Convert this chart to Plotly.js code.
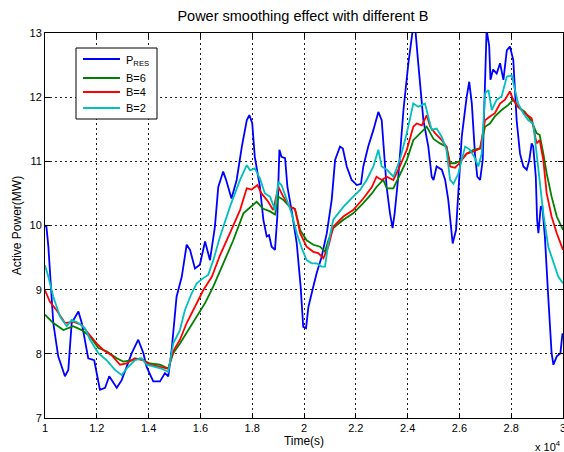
<!DOCTYPE html>
<html>
<head>
<meta charset="utf-8">
<script src="https://cdn.plot.ly/plotly-3.0.1.min.js"></script>
<style>html,body{margin:0;padding:0;background:#fff;}#chart{width:564px;height:452px;}</style>
</head>
<body>
<div id="chart"></div>
<script>
// Time in seconds, power in MW
const tRes = [10000,10050,10130,10320,10510,10770,10900,11030,11290,11420,11670,11900,12120,12320,12480,12570,12770,12960,13150,13350,13600,13800,13920,14180,14440,14630,14760,14890,15080,15280,15470,15600,15790,15980,16180,16370,16560,16690,16880,17000,17200,17400,17600,17790,17890,18000,18100,18300,18430,18560,18650,18750,18880,18970,19050,19130,19270,19360,19520,19720,19870,19970,20080,20170,20360,20490,20680,20880,21070,21200,21390,21500,21650,21840,22040,22200,22290,22480,22680,22870,23000,23090,23190,23320,23420,23500,23640,23840,24030,24200,24300,24410,24610,24800,24930,25000,25120,25320,25450,25570,25680,25740,25870,25960,26090,26280,26380,26480,26600,26690,26800,26900,26990,27050,27150,27200,27300,27440,27570,27700,27830,27950,28080,28210,28340,28470,28600,28700,28790,28850,28950,29000,29050,29140,29200,29300,29430,29560,29630,29760,29900,29980];
const pRes = [9.98,10.0,9.67,8.48,7.96,7.65,7.75,8.48,8.66,8.48,7.93,7.90,7.44,7.47,7.65,7.60,7.47,7.59,7.80,8.01,8.22,8.01,7.80,7.57,7.57,7.70,7.65,8.06,8.89,9.20,9.70,9.62,9.33,9.39,9.75,9.46,9.98,10.60,10.84,10.70,10.42,10.71,11.23,11.64,11.72,11.60,11.07,10.60,10.09,9.83,9.85,9.67,9.62,10.14,11.18,11.07,11.05,10.60,10.24,9.72,9.05,8.42,8.40,8.73,9.05,9.26,9.51,9.88,10.40,11.02,11.23,11.20,10.92,10.71,10.63,10.65,10.92,11.23,11.49,11.77,11.64,11.12,10.60,10.19,9.96,10.19,10.76,11.80,12.53,13.05,13.05,12.53,11.64,11.23,10.76,10.71,10.92,10.87,10.71,10.40,9.88,9.72,9.93,10.50,11.38,12.00,12.24,11.90,11.12,10.76,10.71,11.02,12.32,13.05,12.80,12.27,12.43,12.37,12.53,12.27,12.73,12.79,12.58,11.64,11.12,10.92,10.87,11.02,11.28,11.23,10.76,10.09,9.88,10.29,10.30,9.83,8.89,8.01,7.83,7.96,8.01,8.32];

const tB6 = [10000,10320,10710,11090,11420,11740,12060,12380,12770,13020,13350,13670,14050,14440,14760,14950,15210,15530,15860,16180,16500,16880,17270,17660,17920,18170,18430,18690,18880,19010,19200,19460,19650,19850,20100,20360,20620,20810,20940,21130,21520,21900,22290,22620,22800,23060,23200,23450,23700,23970,24220,24480,24740,25000,25250,25500,25640,25830,26000,26280,26540,26800,26990,27180,27370,27630,27890,28080,28270,28530,28790,28980,29100,29240,29370,29560,29760,30000];
const pB6 = [8.61,8.48,8.37,8.43,8.37,8.27,8.09,8.04,7.93,7.88,7.90,7.93,7.85,7.83,7.77,8.01,8.16,8.37,8.58,8.79,9.05,9.41,9.77,10.19,10.29,10.37,10.26,10.22,10.17,10.45,10.40,10.29,10.26,9.93,9.77,9.70,9.67,9.59,9.77,9.96,10.09,10.19,10.35,10.50,10.60,10.71,10.58,10.58,10.79,11.02,11.33,11.44,11.54,11.35,11.28,11.23,10.97,10.97,11.00,11.12,11.18,11.20,11.54,11.59,11.70,11.80,11.88,11.96,11.85,11.77,11.62,11.44,11.41,11.12,10.81,10.45,10.14,9.93];

const tB4 = [10000,10190,10450,10770,11090,11420,11670,12000,12250,12570,12900,13150,13470,13800,14050,14440,14760,14950,15210,15470,15790,16110,16440,16760,17140,17530,17790,17980,18200,18360,18620,18810,19010,19200,19460,19650,19850,20100,20360,20550,20750,20940,21130,21520,21900,22290,22620,22800,23000,23200,23450,23700,23970,24220,24350,24550,24740,24870,25060,25320,25500,25640,25830,26000,26280,26540,26800,26990,27180,27370,27570,27760,27950,28080,28270,28530,28790,28980,29100,29240,29370,29560,29760,30000];
const pB4 = [8.99,8.81,8.68,8.48,8.50,8.45,8.32,8.16,8.06,7.98,7.83,7.85,7.93,7.90,7.83,7.80,7.77,8.04,8.22,8.48,8.74,8.99,9.20,9.54,9.88,10.24,10.58,10.56,10.63,10.50,10.37,10.24,10.60,10.45,10.29,10.26,9.88,9.67,9.59,9.57,9.49,9.67,9.98,10.14,10.24,10.42,10.60,10.76,10.71,10.76,10.71,10.92,11.18,11.54,11.59,11.56,11.72,11.54,11.44,11.33,11.23,10.92,10.90,10.97,11.12,11.15,11.20,11.64,11.70,11.75,11.90,11.96,12.09,11.96,11.85,11.75,11.67,11.28,11.33,11.02,10.50,10.14,9.88,9.62];

const tB2 = [10000,10130,10320,10580,10840,11030,11290,11540,11740,12060,12380,12700,12960,13150,13470,13730,13920,14180,14500,14760,14950,15210,15400,15660,15860,16110,16300,16500,16760,17140,17530,17790,17920,18100,18300,18490,18690,18880,19010,19130,19330,19520,19720,19910,20100,20300,20490,20680,20810,20940,21130,21520,21900,22160,22420,22680,22870,23000,23200,23450,23700,23970,24220,24410,24670,24800,24930,25120,25320,25500,25640,25770,25960,26220,26410,26600,26730,26860,26990,27120,27250,27440,27630,27830,28020,28150,28270,28470,28660,28850,28980,29100,29240,29430,29630,29820,30000];
const pB2 = [9.38,9.20,8.89,8.58,8.43,8.53,8.48,8.40,8.22,8.01,7.90,7.75,7.67,7.77,7.90,7.93,7.83,7.80,7.77,7.72,8.16,8.37,8.68,8.94,9.10,9.18,9.23,9.46,9.83,10.29,10.71,10.94,10.86,10.89,10.73,10.50,10.45,10.24,10.68,10.63,10.40,10.19,9.88,9.65,9.46,9.41,9.41,9.36,9.36,9.72,10.09,10.29,10.45,10.55,10.71,10.92,11.18,10.92,10.87,10.76,11.02,11.44,11.90,11.85,11.90,11.70,11.49,11.51,11.38,11.18,10.71,10.65,10.81,11.23,11.18,11.05,10.92,11.12,12.06,12.11,11.80,11.96,12.01,12.32,12.34,12.11,11.90,11.75,11.64,11.59,11.12,10.76,10.19,9.67,9.41,9.20,9.10];

const xTickVals = [10000,12000,14000,16000,18000,20000,22000,24000,26000,28000,30000];
const xTickText = ['1','1.2','1.4','1.6','1.8','2','2.2','2.4','2.6','2.8','3'];
const yTickVals = [7,8,9,10,11,12,13];

const seriesNames = ['P<sub>RES</sub>','B=6','B=4','B=2'];
const seriesColors = ['#0000ff','#008000','#ff0000','#00bfbf'];

const xs = [tRes,tB6,tB4,tB2];
const ys = [pRes,pB6,pB4,pB2];
const traces = xs.map((x,i)=>({
  x: x, y: ys[i], type:'scatter', mode:'lines', name: seriesNames[i],
  line:{color: seriesColors[i], width: 1.8}, showlegend:false
}));

// plot area in pixels: left 45, right 563, top 33, bottom 418
const L=45, R=563, T=33, B=418;
const px = v => (v-L)/(R-L);
const py = v => (B-v)/(B-T);

const shapes = [
  {type:'rect', xref:'paper', yref:'paper', x0:px(76), x1:px(157), y0:py(119), y1:py(48),
   line:{color:'#000', width:1}, fillcolor:'#fff', layer:'above'}
];
const legendY = [59, 78, 92, 108];
const annotations = [];
seriesNames.forEach((n,i)=>{
  shapes.push({type:'line', xref:'paper', yref:'paper', x0:px(83), x1:px(120), y0:py(legendY[i]), y1:py(legendY[i]),
    line:{color:seriesColors[i], width:1.8}, layer:'above'});
  annotations.push({text:n, xref:'paper', yref:'paper', x:px(124), y:py(legendY[i]+ (i===0?2:0)), xanchor:'left', yanchor:'middle',
    showarrow:false, font:{size:11, color:'#000'}});
});
annotations.push({text:'x 10<sup>4</sup>', xref:'paper', yref:'paper', x:1.0, y:-0.05, xanchor:'right', yanchor:'top', showarrow:false, font:{size:11}});

const axisCommon = {
  showline:true, linecolor:'#000', linewidth:1, mirror:'ticks',
  ticks:'inside', ticklen:5, tickcolor:'#000',
  showgrid:true, gridcolor:'#222', gridwidth:1, griddash:'2px,3px',
  zeroline:false, tickfont:{size:11, color:'#000'}
};

const layout = {
  width:564, height:452,
  margin:{l:L, r:564-R, t:T, b:452-B},
  paper_bgcolor:'#fff', plot_bgcolor:'#fff',
  font:{family:'Liberation Sans, Arial, sans-serif', color:'#000'},
  title:{text:'Power smoothing effect with different B', font:{size:14.5}, x:0.537, xanchor:'center', y:0.975, yanchor:'top'},
  xaxis: Object.assign({}, axisCommon, {
    range:[10000,30000], tickvals:xTickVals, ticktext:xTickText, ticklabeloverflow:'allow',
    title:{text:'Time(s)', font:{size:12}, standoff:1}
  }),
  yaxis: Object.assign({}, axisCommon, {
    range:[7,13], tickvals:yTickVals,
    title:{text:'Active Power(MW)', font:{size:12}, standoff:5}
  }),
  showlegend:false,
  shapes: shapes,
  annotations: annotations
};

Plotly.newPlot('chart', traces, layout, {displayModeBar:false, staticPlot:true});
</script>
</body>
</html>
